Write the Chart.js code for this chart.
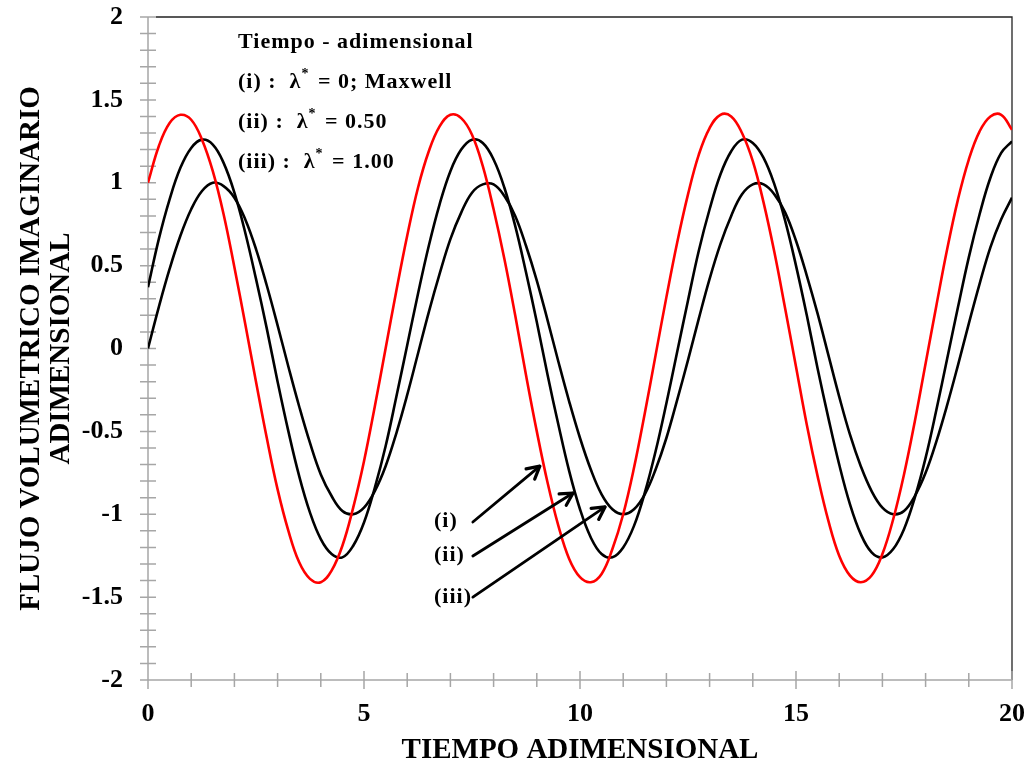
<!DOCTYPE html>
<html><head><meta charset="utf-8">
<script src="https://cdn.jsdelivr.net/npm/chart.js@4.4.0/dist/chart.umd.min.js"></script>
<style>html,body{margin:0;padding:0;background:#fff;}#wrap{width:1028px;height:765px;position:relative;}</style>
</head><body><div id="wrap"><canvas id="c" width="1028" height="765"></canvas></div>
<script>
// ---- data ----
const tiempo = [
  0,0.25,0.5,0.75,1,1.25,1.5,1.75,2,2.25,
  2.5,2.75,3,3.25,3.5,3.75,4,4.25,4.5,4.75,
  5,5.25,5.5,5.75,6,6.25,6.5,6.75,7,7.25,
  7.5,7.75,8,8.25,8.5,8.75,9,9.25,9.5,9.75,
  10,10.25,10.5,10.75,11,11.25,11.5,11.75,12,12.25,
  12.5,12.75,13,13.25,13.5,13.75,14,14.25,14.5,14.75,
  15,15.25,15.5,15.75,16,16.25,16.5,16.75,17,17.25,
  17.5,17.75,18,18.25,18.5,18.75,19,19.25,19.5,19.75,20
];
// (i) lambda* = 0, Maxwell (red)
const flujoI = [
  1.00,1.22,1.36,1.41,1.38,1.26,1.07,0.81,0.49,0.15,
  -0.20,-0.54,-0.85,-1.10,-1.29,-1.39,-1.41,-1.34,-1.19,-0.96,
  -0.68,-0.35,0.00,0.35,0.68,0.97,1.19,1.34,1.41,1.39,
  1.29,1.10,0.84,0.54,0.20,-0.16,-0.50,-0.81,-1.07,-1.27,
  -1.38,-1.41,-1.36,-1.21,-1.00,-0.72,-0.39,-0.04,0.31,0.64,
  0.93,1.17,1.33,1.41,1.40,1.30,1.13,0.88,0.58,0.24,
  -0.11,-0.46,-0.77,-1.04,-1.25,-1.37,-1.41,-1.37,-1.24,-1.03,
  -0.76,-0.44,-0.09,0.26,0.60,0.90,1.14,1.31,1.40,1.41,1.32
];
// (ii) lambda* = 0.50
const flujoII = [
  0.37,0.66,0.90,1.09,1.21,1.26,1.23,1.12,0.94,0.70,
  0.42,0.12,-0.20,-0.50,-0.77,-0.99,-1.15,-1.24,-1.26,-1.19,
  -1.05,-0.84,-0.59,-0.29,0.02,0.33,0.62,0.87,1.07,1.20,
  1.26,1.24,1.14,0.97,0.74,0.46,0.16,-0.16,-0.46,-0.74,
  -0.97,-1.14,-1.24,-1.26,-1.20,-1.07,-0.87,-0.62,-0.33,-0.02,
  0.29,0.59,0.84,1.05,1.19,1.26,1.24,1.15,0.99,0.77,
  0.50,0.20,-0.12,-0.42,-0.70,-0.94,-1.12,-1.23,-1.26,-1.21,
  -1.09,-0.90,-0.66,-0.37,-0.06,0.25,0.55,0.81,1.03,1.18,1.25
];
// (iii) lambda* = 1.00
const flujoIII = [
  0.00,0.25,0.48,0.68,0.84,0.95,1.00,0.98,0.91,0.78,
  0.60,0.38,0.14,-0.11,-0.35,-0.57,-0.76,-0.89,-0.98,-1.00,
  -0.96,-0.86,-0.71,-0.51,-0.28,-0.03,0.22,0.45,0.66,0.82,
  0.94,0.99,0.99,0.92,0.80,0.62,0.41,0.17,-0.08,-0.32,
  -0.54,-0.73,-0.88,-0.97,-1.00,-0.97,-0.88,-0.73,-0.54,-0.31,
  -0.07,0.18,0.42,0.63,0.80,0.93,0.99,0.99,0.93,0.82,
  0.65,0.44,0.21,-0.04,-0.29,-0.52,-0.71,-0.86,-0.96,-1.00,
  -0.98,-0.89,-0.75,-0.56,-0.34,-0.10,0.15,0.39,0.61,0.78,0.91
];
const xTickLabels = [0,5,10,15,20];
const yTickLabels = [-2,-1.5,-1,-0.5,0,0.5,1,1.5,2];
const seriesNames = ['(i)','(ii)','(iii)'];
const lambdaValues = ['0; Maxwell','0.50','1.00'];
const legendTitle = 'Tiempo - adimensional';
const xTitle = 'TIEMPO ADIMENSIONAL';
const yTitle = ['FLUJO VOLUMETRICO IMAGINARIO','ADIMENSIONAL'];

// ---- layout / style (not data) ----
const FONT = "'Liberation Serif','Times New Roman',serif";
// arrow anchors in data units: label position, tail, tip
const arrowAnchors = [
  {lx:6.62, ly:-1.04, x1:7.52, y1:-1.047, x2:9.07, y2:-0.71},
  {lx:6.62, ly:-1.25, x1:7.52, y1:-1.252, x2:9.84, y2:-0.872},
  {lx:6.62, ly:-1.50, x1:7.52, y1:-1.500, x2:10.58, y2:-0.956}
];

function pts(ys){ return tiempo.map((t,i)=>({x:t,y:ys[i]})); }

const decoPlugin = {
  id:'deco',
  beforeDatasetsDraw(chart){
    const {ctx, scales:{x,y}} = chart;
    const L=x.left, R=x.right, T=y.top, B=y.bottom;
    ctx.save();
    ctx.strokeStyle='#222'; ctx.lineWidth=1.3;
    ctx.beginPath(); ctx.moveTo(L+8,T); ctx.lineTo(R,T); ctx.lineTo(R,B); ctx.stroke();
    ctx.strokeStyle='#a6a6a6'; ctx.lineWidth=1.5;
    ctx.beginPath(); ctx.moveTo(L,T); ctx.lineTo(L,B); ctx.lineTo(R,B);
    for(let i=-20;i<=20;i++){ const py=y.getPixelForValue(i/10); ctx.moveTo(L-8,py); ctx.lineTo(L+8,py); }
    for(let i=0;i<=20;i++){ const px=x.getPixelForValue(i); const h=(i%5===0)?9:7; ctx.moveTo(px,B-h); ctx.lineTo(px,B+h); }
    ctx.stroke();
    ctx.restore();
  },
  afterDatasetsDraw(chart){
    const {ctx, scales:{x,y}} = chart;
    const L=x.left, T=y.top;
    ctx.save();
    ctx.fillStyle='#000'; ctx.textBaseline='middle'; ctx.textAlign='left';
    ctx.letterSpacing='1px';
    // legend text
    const fs=22;
    ctx.font=`bold ${fs}px ${FONT}`;
    const lx=L+90;
    ctx.fillText(legendTitle, lx, T+25);
    seriesNames.forEach((n,i)=>{
      const cy=T+65+i*40;
      ctx.font=`bold ${fs}px ${FONT}`;
      let cx=lx;
      const pre=n+' :  ';
      ctx.fillText(pre,cx,cy); cx+=ctx.measureText(pre).width;
      ctx.fillText('\u03bb',cx,cy); cx+=ctx.measureText('\u03bb').width;
      ctx.font=`bold 14px ${FONT}`;
      ctx.fillText('*',cx,cy-8); cx+=ctx.measureText('*').width+2;
      ctx.font=`bold ${fs}px ${FONT}`;
      ctx.fillText(' = '+lambdaValues[i],cx,cy);
    });
    // arrows and labels
    ctx.strokeStyle='#000'; ctx.lineCap='round'; ctx.lineJoin='round';
    arrowAnchors.forEach((a,i)=>{
      ctx.font=`bold 22px ${FONT}`;
      ctx.fillText(seriesNames[i], x.getPixelForValue(a.lx), y.getPixelForValue(a.ly));
      const x1=x.getPixelForValue(a.x1), y1=y.getPixelForValue(a.y1);
      const x2=x.getPixelForValue(a.x2), y2=y.getPixelForValue(a.y2);
      const ang=Math.atan2(y2-y1,x2-x1);
      ctx.lineWidth=2.8;
      ctx.beginPath(); ctx.moveTo(x1,y1); ctx.lineTo(x2,y2); ctx.stroke();
      const len=14, sp=0.5;
      ctx.lineWidth=3.2;
      ctx.beginPath();
      ctx.moveTo(x2-len*Math.cos(ang-sp), y2-len*Math.sin(ang-sp));
      ctx.lineTo(x2,y2);
      ctx.lineTo(x2-len*Math.cos(ang+sp), y2-len*Math.sin(ang+sp));
      ctx.stroke();
    });
    ctx.restore();
  }
};

function zeroPad(s){ s.paddingTop=0; s.paddingBottom=0; s.paddingLeft=0; s.paddingRight=0; }

new Chart(document.getElementById('c'),{
  type:'line',
  data:{datasets:[
    {label:'(i)', data:pts(flujoI), borderColor:'#ff0000', borderWidth:2.6, pointRadius:0, tension:0.4, fill:false},
    {label:'(ii)', data:pts(flujoII), borderColor:'#000000', borderWidth:2.6, pointRadius:0, tension:0.4, fill:false},
    {label:'(iii)', data:pts(flujoIII), borderColor:'#000000', borderWidth:2.6, pointRadius:0, tension:0.4, fill:false}
  ]},
  options:{
    responsive:false, animation:false,
    layout:{padding:{left:0,right:16,top:17,bottom:0}},
    plugins:{legend:{display:false}, tooltip:{enabled:false}},
    scales:{
      x:{type:'linear', min:0, max:20,
        afterBuildTicks(s){ s.ticks=xTickLabels.map(v=>({value:v})); },
        afterFit(s){ s.height=85; zeroPad(s); },
        grid:{display:false, drawTicks:false}, border:{display:false},
        ticks:{padding:19, color:'#000', font:{family:FONT, size:26, weight:'bold'}, maxRotation:0, callback:v=>String(v)},
        title:{display:true, text:xTitle, color:'#000', font:{family:FONT, size:29, weight:'bold', lineHeight:1.03}, padding:{top:0,bottom:0}}
      },
      y:{type:'linear', min:-2, max:2,
        afterBuildTicks(s){ s.ticks=yTickLabels.map(v=>({value:v})); },
        afterFit(s){ s.width=148; zeroPad(s); },
        grid:{display:false, drawTicks:false}, border:{display:false},
        ticks:{padding:25, color:'#000', font:{family:FONT, size:26, weight:'bold'}, callback:v=>String(v)},
        title:{display:true, text:yTitle, color:'#000', font:{family:FONT, size:29, weight:'bold', lineHeight:1.03}, padding:{top:17,bottom:0}}
      }
    }
  },
  plugins:[decoPlugin]
});
</script></body></html>
